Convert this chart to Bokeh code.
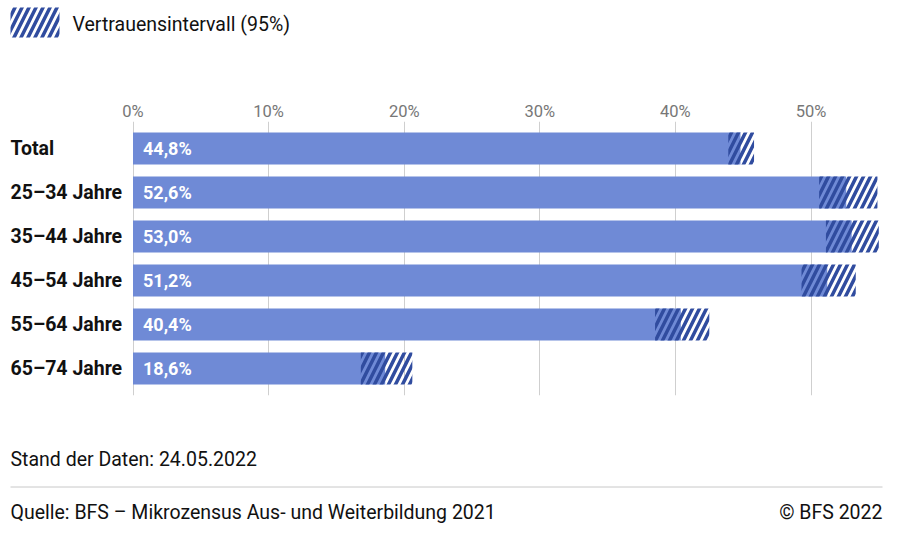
from bokeh.plotting import figure
from bokeh.layouts import column
from bokeh.models import (ColumnDataSource, FactorRange, Range1d, FixedTicker,
                          PrintfTickFormatter)
from bokeh.core.properties import value
from bokeh.embed import file_html
from bokeh.resources import INLINE

# ---- data ----
categories = ["Total", "25\u201334 Jahre", "35\u201344 Jahre", "45\u201354 Jahre",
              "55\u201364 Jahre", "65\u201374 Jahre"]
shares = [44.8, 52.6, 53.0, 51.2, 40.4, 18.6]
ci_low = [43.9, 50.6, 51.1, 49.3, 38.5, 16.8]
ci_high = [45.8, 54.9, 55.0, 53.3, 42.5, 20.6]
value_labels = ["44,8%", "52,6%", "53,0%", "51,2%", "40,4%", "18,6%"]
x_ticks = [0, 10, 20, 30, 40, 50]

legend_text = "Vertrauensintervall (95%)"
stand_text = "Stand der Daten: 24.05.2022"
source_text = "Quelle: BFS \u2013 Mikrozensus Aus- und Weiterbildung 2021"
copyright_text = "\u00a9 BFS 2022"

BAR = "#6f8ad6"
HATCH = "#304c9f"
FONT = "Roboto"
TXT = "#111111"
W = 884
HSCALE = 14
HWEIGHT = 3.5


def blank(fig):
    fig.outline_line_color = None
    fig.axis.visible = False
    fig.grid.grid_line_color = None
    fig.background_fill_color = "white"
    fig.border_fill_color = "white"
    return fig


# ---- legend strip ----
LH = 60
leg = blank(figure(width=W, height=LH, output_backend="svg", toolbar_location=None,
                   x_range=Range1d(0, W), y_range=Range1d(LH, 0), min_border=0))
leg.quad(left=[10], right=[59], top=[7], bottom=[37], fill_alpha=0, line_color=None,
         hatch_pattern="/", hatch_color=HATCH, hatch_weight=HWEIGHT, hatch_scale=HSCALE)
leg.text(x=[72], y=[24], text=[legend_text], text_font=value(FONT),
         text_font_size="19.5px", text_color=TXT, text_baseline="middle", text_align="left")

# ---- main chart ----
src = ColumnDataSource(dict(cat=categories, share=shares, lo=ci_low, hi=ci_high,
                            lab=value_labels, zero=[0] * len(categories)))
MH = 340
PX = 13.56
x0 = -132.5 / PX
p = blank(figure(width=W, height=MH, output_backend="svg", toolbar_location=None,
                 y_range=FactorRange(factors=list(reversed(categories)),
                                     range_padding=0.1136, range_padding_units="absolute"),
                 x_range=Range1d(x0, x0 + W / PX),
                 x_axis_location="above",
                 min_border_left=0, min_border_right=0,
                 min_border_top=61, min_border_bottom=5))
ax = p.xaxis[0]
ax.visible = True
ax.ticker = FixedTicker(ticks=x_ticks)
ax.formatter = PrintfTickFormatter(format="%d%%")
ax.axis_line_color = None
ax.major_tick_line_color = None
ax.minor_tick_line_color = None
ax.major_tick_out = 0
ax.major_tick_in = 0
ax.major_label_text_color = "#777777"
ax.major_label_text_font = FONT
ax.major_label_text_font_size = "16.5px"
ax.major_label_standoff = 1

p.xgrid.ticker = FixedTicker(ticks=x_ticks)
p.xgrid.grid_line_color = "#cfcfcf"
p.xgrid.grid_line_width = 1

p.hbar(y="cat", left=0, right="share", height=0.727, source=src,
       fill_color=BAR, line_color=None)
p.hbar(y="cat", left="lo", right="hi", height=0.727, source=src,
       fill_alpha=0, line_color=None, hatch_pattern="/", hatch_color=HATCH,
       hatch_weight=HWEIGHT, hatch_scale=HSCALE)

p.text(x="zero", y="cat", text="lab", source=src, x_offset=10,
       text_color="white", text_font=value(FONT), text_font_style="bold",
       text_font_size="18px", text_baseline="middle", text_align="left")
p.text(x="zero", y="cat", text="cat", source=src, x_offset=-122.5,
       text_color=TXT, text_font=value(FONT), text_font_style="bold",
       text_font_size="19.5px", text_baseline="middle", text_align="left")

# ---- footer ----
FH = 523 - LH - MH
ft = blank(figure(width=W, height=FH, output_backend="svg", toolbar_location=None,
                  x_range=Range1d(0, W), y_range=Range1d(FH, 0), min_border=0))
ft.text(x=[10], y=[59], text=[stand_text], text_font=value(FONT), text_font_size="19.5px",
        text_color=TXT, text_baseline="middle", text_align="left")
ft.segment(x0=[10], y0=[86.5], x1=[882], y1=[86.5], line_color="#c8c8c8", line_width=1)
ft.text(x=[10], y=[112], text=[source_text], text_font=value(FONT), text_font_size="19.5px",
        text_color=TXT, text_baseline="middle", text_align="left")
ft.text(x=[882], y=[112], text=[copyright_text], text_font=value(FONT),
        text_font_size="19.5px", text_color=TXT, text_baseline="middle", text_align="right")

layout = column(leg, p, ft, spacing=0)
open("out.html", "w").write(file_html(layout, INLINE))
